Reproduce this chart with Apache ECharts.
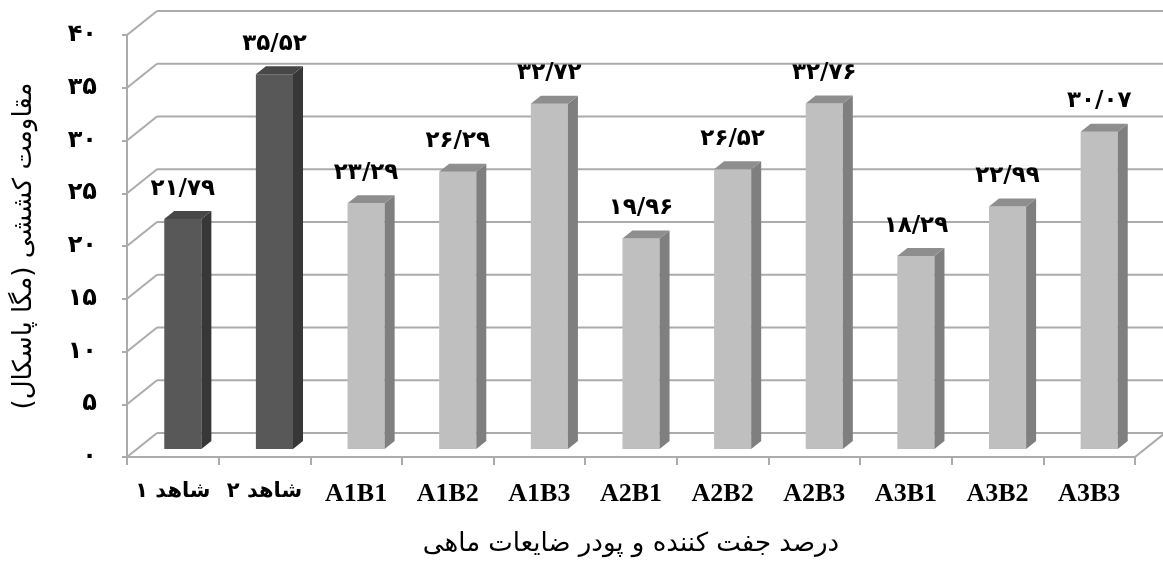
<!DOCTYPE html>
<html>
<head>
<meta charset="utf-8">
<script src="https://cdn.jsdelivr.net/npm/echarts@6/dist/echarts.min.js"></script>
<style>
  html, body { margin: 0; padding: 0; background: #ffffff; }
  #chart { width: 1163px; height: 562px; }
</style>
</head>
<body>
<div id="chart"></div>
<script>
// Tensile strength of each sample (MPa)
const categories = ['شاهد ۱', 'شاهد ۲', 'A1B1', 'A1B2', 'A1B3', 'A2B1', 'A2B2', 'A2B3', 'A3B1', 'A3B2', 'A3B3'];
const tensileStrength = [21.79, 35.52, 23.29, 26.29, 32.72, 19.96, 26.52, 32.76, 18.29, 22.99, 30.07];
const barShade = ['dark', 'dark', 'light', 'light', 'light', 'light', 'light', 'light', 'light', 'light', 'light'];
const yTicks = [0, 5, 10, 15, 20, 25, 30, 35, 40];
const yAxisName = 'مقاومت کششی (مگا پاسکال)\u200F';
const xAxisName = 'درصد جفت کننده و پودر ضایعات ماهی';

const FA_DIGITS = '۰۱۲۳۴۵۶۷۸۹';
function toPersian(str) {
  return String(str).replace(/[0-9]/g, d => FA_DIGITS[+d]).replace('.', '/');
}

// Offset from the front plane to the back wall, in pixels
const DEPTH_X = 30;
const DEPTH_Y = -24;
const GRID_COLOR = '#ababab';

const SHADES = {
  dark:  { front: '#585858', side: '#373737', top: '#474747' },
  light: { front: '#bfbfbf', side: '#7f7f7f', top: '#8e8e8e' }
};

// Back wall gridlines and the diagonals joining them to the front axis
function renderWall(params, api) {
  const cs = params.coordSys;
  const y = api.coord([0, api.value(1)])[1];
  const left = cs.x, right = cs.x + cs.width;
  const lineStyle = { stroke: GRID_COLOR, lineWidth: 2, fill: null };
  const children = [
    { type: 'line', shape: { x1: left, y1: y, x2: left + DEPTH_X, y2: y + DEPTH_Y }, style: lineStyle },
    { type: 'line', shape: { x1: left + DEPTH_X, y1: y + DEPTH_Y, x2: right + DEPTH_X, y2: y + DEPTH_Y }, style: lineStyle }
  ];
  if (api.value(1) === 0) {
    children.push({ type: 'line', shape: { x1: right, y1: y, x2: right + DEPTH_X, y2: y + DEPTH_Y }, style: lineStyle });
  }
  return { type: 'group', children };
}

// Box-shaped bars sitting in the middle third of the depth
function renderBar(params, api) {
  const idx = api.value(0);
  const val = api.value(1);
  const top = api.coord([idx, val]);
  const base = api.coord([idx, 0]);
  const band = api.size([1, 0])[0];
  const w = band * 0.405;
  const dx = DEPTH_X / 3, dy = DEPTH_Y / 3;
  const x0 = top[0] - w / 2 + dx;
  const x1 = x0 + w;
  const yT = top[1] + dy;
  const yB = base[1] + dy;
  const shade = SHADES[barShade[idx]];
  return {
    type: 'group',
    children: [
      { type: 'rect', shape: { x: x0, y: yT, width: w, height: yB - yT }, style: { fill: shade.front } },
      { type: 'polygon', shape: { points: [[x1, yT], [x1 + dx, yT + dy], [x1 + dx, yB + dy], [x1, yB]] }, style: { fill: shade.side } },
      { type: 'polygon', shape: { points: [[x0, yT], [x0 + dx, yT + dy], [x1 + dx, yT + dy], [x1, yT]] }, style: { fill: shade.top } },
      {
        type: 'text',
        style: {
          text: toPersian(val.toFixed(2)),
          x: x0 + w / 2,
          y: yT + dy - 11,
          align: 'center',
          verticalAlign: 'bottom',
          font: 'bold 23px "DejaVu Sans"',
          fill: '#000000'
        }
      }
    ]
  };
}

const chart = echarts.init(document.getElementById('chart'), null, { renderer: 'canvas' });

chart.setOption({
  backgroundColor: '#ffffff',
  animation: false,
  grid: { left: 127, right: 28, top: 35, bottom: 105, containLabel: false },
  xAxis: {
    type: 'category',
    data: categories,
    boundaryGap: true,
    axisLine: { show: true, lineStyle: { color: GRID_COLOR, width: 2 } },
    axisTick: { show: true, interval: 0, length: 8, lineStyle: { color: GRID_COLOR, width: 2 } },
    axisLabel: {
      interval: 0,
      margin: 24,
      formatter: v => /[A-Z]/.test(v) ? '{en|' + v + '}' : '{ar|' + v + '}',
      rich: {
        en: { fontFamily: 'Liberation Serif', fontWeight: 'bold', fontSize: 26, color: '#000' },
        ar: { fontFamily: 'DejaVu Sans', fontWeight: 'bold', fontSize: 21, color: '#000' }
      }
    },
    name: xAxisName,
    nameLocation: 'middle',
    nameGap: 74,
    nameTextStyle: { fontFamily: 'DejaVu Sans', fontSize: 26, color: '#000' },
    splitLine: { show: false }
  },
  yAxis: {
    type: 'value',
    min: 0,
    max: 40,
    interval: 5,
    axisLine: { show: true, lineStyle: { color: GRID_COLOR, width: 2 } },
    axisTick: { show: true, length: 5, lineStyle: { color: GRID_COLOR, width: 2 } },
    axisLabel: {
      margin: 30,
      formatter: v => toPersian(v),
      fontFamily: 'DejaVu Sans',
      fontWeight: 'bold',
      fontSize: 24,
      color: '#000'
    },
    splitLine: { show: false },
    name: yAxisName,
    nameLocation: 'middle',
    nameRotate: 90,
    nameGap: 90,
    nameTextStyle: { fontFamily: 'DejaVu Sans', fontSize: 26, color: '#000' }
  },
  series: [
    {
      type: 'custom',
      name: 'wall',
      renderItem: renderWall,
      data: yTicks.map(t => [0, t]),
      clip: false,
      z: 1,
      silent: true
    },
    {
      type: 'custom',
      name: 'tensile',
      renderItem: renderBar,
      data: tensileStrength.map((v, i) => [i, v]),
      clip: false,
      z: 3
    }
  ]
});
</script>
</body>
</html>
